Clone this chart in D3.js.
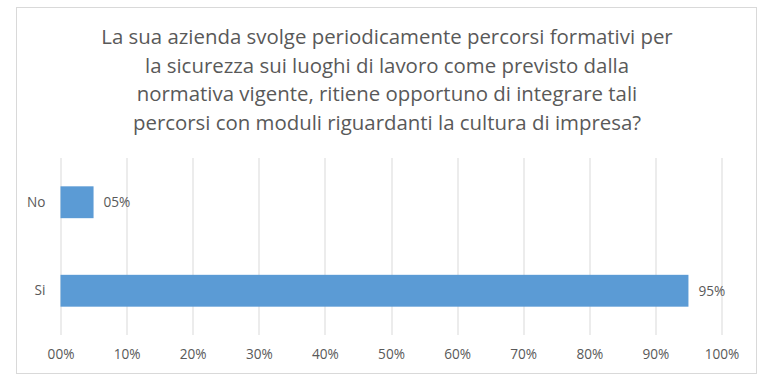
<!DOCTYPE html>
<html>
<head>
<meta charset="utf-8">
<script src="https://cdn.jsdelivr.net/npm/d3@7"></script>
<style>
  body { margin: 0; background: #fff; }
  text { font-family: "Open Sans", "Noto Sans", sans-serif; fill: #595959; }
</style>
</head>
<body>
<div id="chart"></div>
<script>
// data
const titleLines = [
  "La sua azienda svolge periodicamente percorsi formativi per",
  "la sicurezza sui luoghi di lavoro come previsto dalla",
  "normativa vigente, ritiene opportuno di integrare tali",
  "percorsi con moduli riguardanti la cultura di impresa?"
];
const categories = ["No", "Si"];
const values = [0.05, 0.95];
const ticks = [0, 0.1, 0.2, 0.3, 0.4, 0.5, 0.6, 0.7, 0.8, 0.9, 1.0];

const svgWidth = 781, svgHeight = 390;
const margin = { top: 158, left: 60.5, right: 59.5, bottom: 55 };
const width = svgWidth - margin.left - margin.right;
const height = svgHeight - margin.top - margin.bottom;

const fmt = d => (d < 0.1 ? "0" : "") + Math.round(d * 100) + "%";

const svg = d3.select("#chart").append("svg")
  .attr("width", svgWidth)
  .attr("height", svgHeight);

// chart border
svg.append("rect")
  .attr("x", 16.5).attr("y", 7.5)
  .attr("width", 740).attr("height", 366)
  .attr("fill", "#fff")
  .attr("stroke", "#d9d9d9");

// title
svg.append("text")
  .attr("text-anchor", "middle")
  .style("font-size", "20.4px")
  .selectAll("tspan")
  .data(titleLines)
  .enter().append("tspan")
  .attr("x", 387)
  .attr("y", (d, i) => 44 + i * 28.7)
  .text(d => d);

const g = svg.append("g")
  .attr("transform", `translate(${margin.left}, ${margin.top})`);

const x = d3.scaleLinear().domain([0, 1]).range([0, width]);
const y = d3.scaleBand().domain(categories).range([0, height]).paddingInner(0.64).paddingOuter(0.32);

// gridlines
g.selectAll(".grid")
  .data(ticks)
  .enter().append("line")
  .attr("x1", d => Math.round(x(d)) + 0.5)
  .attr("x2", d => Math.round(x(d)) + 0.5)
  .attr("y1", 0).attr("y2", height)
  .attr("stroke", "#d9d9d9");

// x axis
const xAxis = g.append("g")
  .attr("transform", `translate(0, ${height})`)
  .call(d3.axisBottom(x).tickValues(ticks).tickFormat(fmt).tickSize(0).tickPadding(14));
xAxis.select(".domain").remove();
xAxis.selectAll("text").style("font-size", "13.6px").attr("fill", "#595959");

// y axis
const yAxis = g.append("g")
  .call(d3.axisLeft(y).tickSize(0).tickPadding(15));
yAxis.select(".domain").remove();
yAxis.selectAll("text").style("font-size", "13.6px").attr("fill", "#595959");

// bars
g.selectAll(".bar")
  .data(values)
  .enter().append("rect")
  .attr("x", x(0))
  .attr("y", (d, i) => y(categories[i]))
  .attr("width", d => x(d) - x(0))
  .attr("height", y.bandwidth())
  .attr("fill", "#5b9bd5");

// value labels
g.selectAll(".label")
  .data(values)
  .enter().append("text")
  .attr("x", d => x(d) + 10)
  .attr("y", (d, i) => y(categories[i]) + y.bandwidth() / 2)
  .attr("dy", "0.35em")
  .style("font-size", "13.6px")
  .text(fmt);
</script>
</body>
</html>
